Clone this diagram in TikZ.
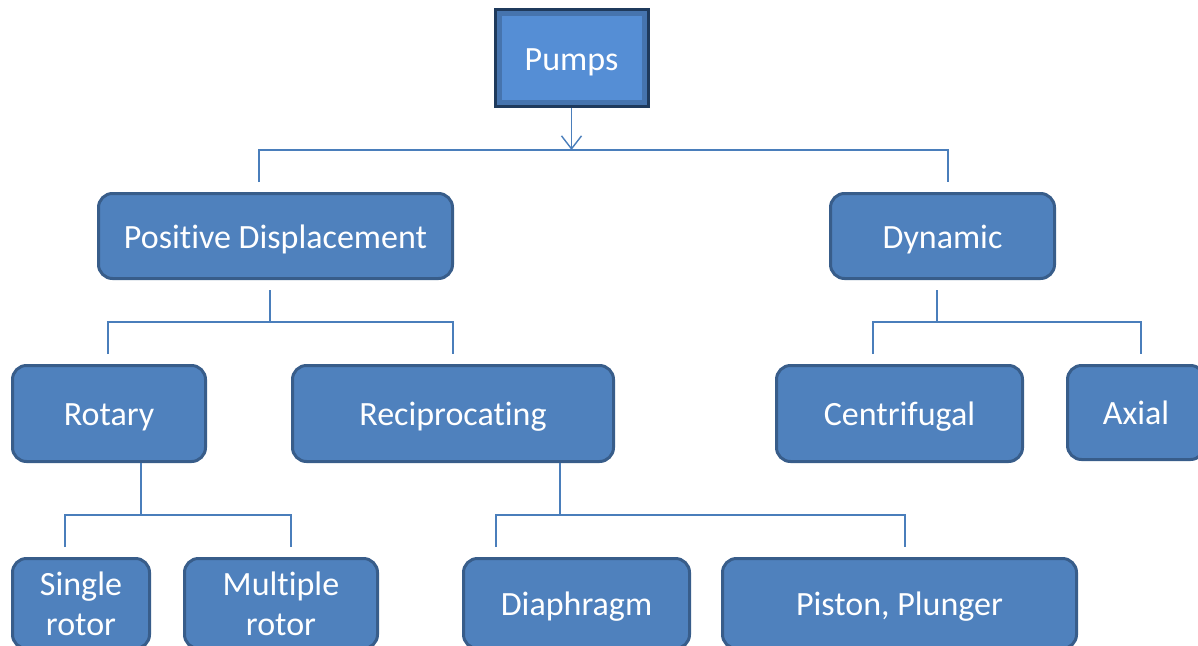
\documentclass[tikz,border=0pt]{standalone}
\usepackage{fontspec}
\setmainfont{Carlito}[RawFeature={-liga}]
\usetikzlibrary{arrows.meta}
\definecolor{boxfill}{HTML}{4F81BD}
\definecolor{boxline}{HTML}{385D8A}
\definecolor{conn}{HTML}{4A7EBB}
\definecolor{pumpfill}{HTML}{558ED5}
\definecolor{pumpline}{HTML}{1F3A5C}
\definecolor{pumpbevel}{HTML}{4674AE}
\begin{document}
\begin{tikzpicture}[x=1pt,y=-1pt,
  rbox/.style={draw=boxline, line width=3pt, fill=boxfill, rounded corners=14pt,
    text=white, font=\fontsize{34}{40}\selectfont, inner sep=0pt, align=center},
  oneline/.style={text height=30pt, text depth=6pt},
  link/.style={draw=conn, line width=1.4pt},
  arrowlink/.style={link, -{Straight Barb[length=13pt,width=20pt,line width=1.4pt]}}]
\useasboundingbox (0,0) rectangle (1198,645);
\clip (0,0) rectangle (1198,645);

% Pumps (bevelled box)
\node[draw=pumpline, line width=3pt, fill=pumpbevel, minimum width=153pt, minimum height=97pt, inner sep=0pt] (pumps) at (571.5,58) {};
\fill[pumpfill] (501.5,16) rectangle (641.5,100);
\node[text=white, font=\fontsize{34}{40}\selectfont, oneline] (pumpst) at (571.5,58) {Pumps};

% level 1
\node[rbox, oneline, minimum width=354pt, minimum height=85pt] (pd) at (275.5,236) {Positive Displacement};
\node[rbox, oneline, minimum width=224pt, minimum height=85pt] (dyn) at (942.5,236) {Dynamic};

% level 2
\node[rbox, oneline, minimum width=193pt, minimum height=96pt] (rot) at (109,413.5) {Rotary};
\node[rbox, oneline, minimum width=321pt, minimum height=96pt] (rec) at (453,413.5) {Reciprocating};
\node[rbox, oneline, minimum width=246pt, minimum height=96pt] (cen) at (899.5,413.5) {Centrifugal};
\node[rbox, oneline, minimum width=137pt, minimum height=94pt] (axi) at (1136,412.5) {Axial};

% level 3
\node[rbox, minimum width=137pt, minimum height=90pt] (sin) at (81,603.5) {Single\\rotor};
\node[rbox, minimum width=193pt, minimum height=90pt] (mul) at (281,603.5) {Multiple\\rotor};
\node[rbox, oneline, minimum width=226pt, minimum height=90pt] (dia) at (576.5,603.5) {Diaphragm};
\node[rbox, oneline, minimum width=354pt, minimum height=90pt] (pis) at (899.5,603.5) {Piston, Plunger};

% connectors
\coordinate (b0l) at (259,150);
\coordinate (b0r) at (948,150);
\coordinate (b0) at (pumps.south |- b0l);
\draw[arrowlink] (pumps.south) -- (b0);
\draw[link] (259,182) -- (b0l) -- (b0r) -- (948,182);

\coordinate (b1s) at (270,290);
\coordinate (b1) at (270,322);
\draw[link] (b1s) -- (b1);
\draw[link] (108,354) -- (108,322) -- (453,322) -- (453,354);

\coordinate (b2s) at (937,290);
\coordinate (b2) at (937,322);
\draw[link] (b2s) -- (b2);
\draw[link] (873,354) -- (873,322) -- (1141,322) -- (1141,354);

\coordinate (b3) at (141,515);
\draw[link] (rot.south -| b3) -- (b3);
\draw[link] (65,547) -- (65,515) -- (291,515) -- (291,547);

\coordinate (b4) at (560,515);
\draw[link] (rec.south -| b4) -- (b4);
\draw[link] (496,547) -- (496,515) -- (905,515) -- (905,547);
\end{tikzpicture}
\end{document}
